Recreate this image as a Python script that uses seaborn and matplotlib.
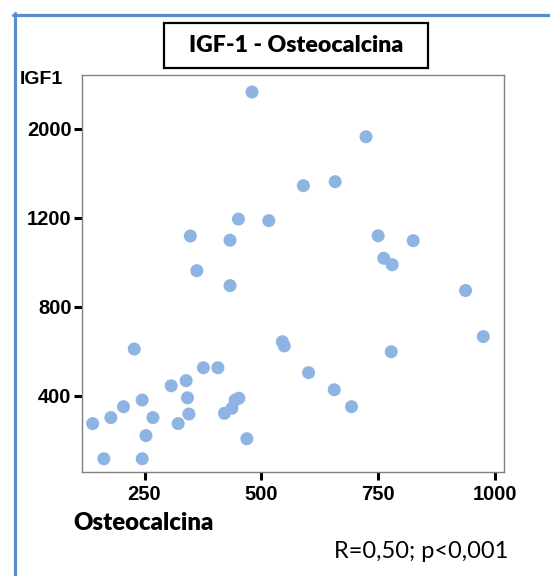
import numpy as np
import pandas as pd
import matplotlib
matplotlib.use("Agg")
import matplotlib.pyplot as plt
from matplotlib.lines import Line2D
from matplotlib.patches import Rectangle
from matplotlib.font_manager import FontProperties
import seaborn as sns

# Osteocalcina vs IGF1 values
osteocalcina = [480, 451, 516, 348, 433, 362, 433, 724, 590, 658, 750, 825, 762, 780,
                937, 228, 376, 407, 339, 307, 245, 342, 205, 139, 178, 268, 345, 322,
                253, 163, 245, 469, 421, 437, 444, 452, 545, 549, 601, 656, 693, 778, 975]
igf1 = [2330, 1194, 1187, 1118, 1099, 962, 895, 1928, 1488, 1524, 1119, 1097, 1018, 989,
        873, 610, 526, 526, 468, 445, 381, 391, 351, 275, 302, 302, 318, 275,
        221, 117, 117, 207, 321, 344, 381, 389, 643, 624, 504, 427, 351, 598, 666]

x_ticks = [250, 500, 750, 1000]
y_ticks = [400, 800, 1200, 2000]

df = pd.DataFrame({"Osteocalcina": osteocalcina, "IGF1": igf1})

sns.set_theme(style="white")
plt.rcParams["font.family"] = ["Liberation Sans", "DejaVu Sans"]

fig = plt.figure(figsize=(5.5, 5.76), dpi=100)
ax = fig.add_axes([82 / 550, 1 - 472 / 576, 422 / 550, 397 / 576])

sns.scatterplot(data=df, x="Osteocalcina", y="IGF1", ax=ax, s=88,
                color="#8EB4E3", edgecolor="none", linewidth=0, alpha=1)

# compressed scale above 1200
BREAK = 1200.0


def fwd(v):
    v = np.asarray(v, dtype=float)
    return np.where(v <= BREAK, v, BREAK + (v - BREAK) / 2.0)


def inv(u):
    u = np.asarray(u, dtype=float)
    return np.where(u <= BREAK, u, BREAK + (u - BREAK) * 2.0)


ax.set_yscale("function", functions=(fwd, inv))
ax.set_xlim(116.2, 1019.3)
ax.set_ylim(57.5, 2483)
ax.minorticks_off()

tick_font = FontProperties(family=["Liberation Sans", "DejaVu Sans"], weight="bold", size=14.5)
ax.set_xticks(x_ticks)
ax.set_yticks(y_ticks)
ax.set_xticklabels([str(t) for t in x_ticks], fontproperties=tick_font, color="black")
ax.set_yticklabels([str(t) for t in y_ticks], fontproperties=tick_font, color="black")
ax.set_xlabel("")
ax.set_ylabel("")

for sp in ax.spines.values():
    sp.set_color("#7f7f7f")
    sp.set_linewidth(1.0)
    sp.set_visible(True)

ax.tick_params(axis="both", which="major", direction="out", length=5.5, width=2.2,
               color="black", bottom=True, left=True, top=False, right=False)
ax.tick_params(axis="x", pad=3.5)
ax.tick_params(axis="y", pad=2)

# axis captions
fig.text(20 / 550, 1 - 79 / 576, "IGF1", ha="left", va="center",
         fontproperties=FontProperties(family=["Liberation Sans", "DejaVu Sans"],
                                       weight="bold", size=14), color="black")
fig.text(73 / 550, 1 - 523 / 576, "Osteocalcina", ha="left", va="center",
         family="Lato", fontweight="heavy", fontsize=17.2, color="black")
fig.text(508 / 550, 1 - 551 / 576, "R=0,50; p<0,001", ha="right", va="center",
         family="Lato", fontsize=17, color="black")

# title box
fig.patches.append(Rectangle((164 / 550, 1 - 68 / 576), 264 / 550, 45 / 576,
                             transform=fig.transFigure, fill=False,
                             edgecolor="black", linewidth=1.6))
fig.text(296 / 550, 1 - 45.5 / 576, "IGF-1 - Osteocalcina", ha="center", va="center",
         family="Lato", fontweight="heavy", fontsize=16.7, color="black")

# outer frame
frame = "#5B8BD0"
fig.lines.append(Line2D([14.5 / 550, 14.5 / 550], [0, 1 - 13 / 576],
                        transform=fig.transFigure, color=frame, linewidth=2.3))
fig.lines.append(Line2D([13 / 550, 1], [1 - 14.5 / 576, 1 - 14.5 / 576],
                        transform=fig.transFigure, color=frame, linewidth=2.3))

fig.savefig("out.png", dpi=100)
